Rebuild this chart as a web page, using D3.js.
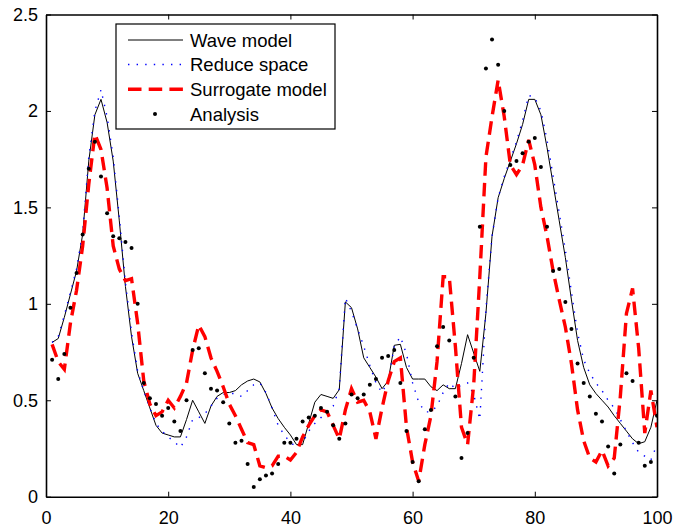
<!DOCTYPE html>
<html>
<head>
<meta charset="utf-8">
<script src="https://cdn.jsdelivr.net/npm/d3@7/dist/d3.min.js"></script>
<style>
  html, body { margin: 0; padding: 0; background: #fff; }
  svg { display: block; }
  text { font-family: "Liberation Sans", Arial, Helvetica, sans-serif; }
</style>
</head>
<body>
<svg id="chart" width="674" height="527"></svg>
<script>
// ---- data ----
const xValues = d3.range(1, 101);

const waveModel = [
  0.80, 0.82, 0.93, 1.05, 1.17, 1.36, 1.74, 1.98, 2.06, 1.94,
  1.74, 1.43, 1.09, 0.83, 0.64, 0.55, 0.46, 0.37, 0.33, 0.32,
  0.31, 0.31, 0.40, 0.50, 0.44, 0.38, 0.47, 0.52, 0.54, 0.54,
  0.55, 0.58, 0.60, 0.61, 0.595, 0.535, 0.46, 0.405, 0.36, 0.32,
  0.27, 0.27, 0.38, 0.49, 0.53, 0.52, 0.51, 0.555, 1.01, 0.98,
  0.87, 0.72, 0.67, 0.62, 0.56, 0.60, 0.785, 0.79, 0.67, 0.61,
  0.61, 0.61, 0.57, 0.55, 0.58, 0.56, 0.56, 0.69, 0.84, 0.745,
  0.65, 0.95, 1.35, 1.55, 1.65, 1.74, 1.83, 1.93, 2.06, 2.06,
  1.98, 1.81, 1.62, 1.43, 1.24, 1.02, 0.81, 0.67, 0.58, 0.535,
  0.50, 0.465, 0.42, 0.38, 0.34, 0.30, 0.275, 0.285, 0.36, 0.50
];

const reduceSpace = [
  0.80, 0.83, 0.94, 1.06, 1.18, 1.37, 1.76, 2.00, 2.11, 1.97,
  1.76, 1.45, 1.11, 0.85, 0.65, 0.55, 0.46, 0.38, 0.34, 0.31,
  0.285, 0.255, 0.31, 0.40, 0.41, 0.43, 0.47, 0.51, 0.53, 0.535,
  0.535, 0.52, 0.55, 0.58, 0.59, 0.54, 0.46, 0.37, 0.32, 0.28,
  0.26, 0.28, 0.34, 0.38, 0.41, 0.44, 0.47, 0.56, 1.03, 0.96,
  0.87, 0.78, 0.68, 0.59, 0.54, 0.60, 0.78, 0.83, 0.74, 0.59,
  0.49, 0.44, 0.44, 0.47, 0.54, 0.59, 0.56, 0.58, 0.59, 0.53,
  0.40, 0.97, 1.35, 1.55, 1.66, 1.75, 1.84, 1.95, 2.08, 2.07,
  2.00, 1.85, 1.66, 1.47, 1.28, 1.06, 0.85, 0.71, 0.64, 0.59,
  0.55, 0.50, 0.46, 0.40, 0.34, 0.28, 0.23, 0.21, 0.19, 0.27
];

const surrogateModel = [
  0.79, 0.70, 0.66, 0.90, 1.07, 1.30, 1.62, 1.88, 1.80, 1.60,
  1.30, 1.18, 1.12, 1.13, 0.90, 0.60, 0.48, 0.42, 0.44, 0.50,
  0.46, 0.52, 0.59, 0.76, 0.89, 0.83, 0.72, 0.65, 0.57, 0.48,
  0.42, 0.35, 0.28, 0.27, 0.16, 0.15, 0.16, 0.21, 0.21, 0.19,
  0.23, 0.31, 0.37, 0.42, 0.45, 0.44, 0.37, 0.30, 0.45, 0.56,
  0.49, 0.50, 0.44, 0.30, 0.46, 0.60, 0.70, 0.72, 0.36, 0.18,
  0.08, 0.27, 0.42, 0.70, 1.14, 1.14, 0.78, 0.36, 0.27, 0.58,
  1.14, 1.76, 1.97, 2.16, 1.97, 1.72, 1.67, 1.72, 1.85, 1.72,
  1.50, 1.35, 1.17, 1.02, 0.88, 0.69, 0.45, 0.29, 0.20, 0.18,
  0.24, 0.16, 0.20, 0.52, 0.95, 1.08, 0.77, 0.33, 0.55, 0.36
];

const analysis = [
  0.71, 0.61, 0.74, 0.98, 1.16, 1.36, 1.70, 1.84, 1.66, 1.47,
  1.35, 1.34, 1.32, 1.29, 1.00, 0.59, 0.51, 0.48, 0.42, 0.46,
  0.39, 0.34, 0.50, 0.76, 0.77, 0.64, 0.56, 0.55, 0.49, 0.38,
  0.28, 0.29, 0.17, 0.05, 0.09, 0.11, 0.12, 0.17, 0.28, 0.28,
  0.30, 0.39, 0.41, 0.42, 0.46, 0.44, 0.37, 0.30, 0.38, 0.53,
  0.51, 0.53, 0.58, 0.61, 0.72, 0.73, 0.76, 0.59, 0.34, 0.18,
  0.08, 0.35, 0.45, 0.78, 0.88, 0.81, 0.52, 0.20, 0.33, 0.72,
  1.40, 2.22, 2.37, 2.24, 2.00, 1.72, 1.74, 1.78, 1.84, 1.86,
  1.71, 1.40, 1.17, 1.18, 1.01, 0.87, 0.69, 0.59, 0.52, 0.43,
  0.39, 0.26, 0.12, 0.27, 0.64, 0.60, 0.28, 0.16, 0.18, 0.42
];

const xTicks = [0, 20, 40, 60, 80, 100];
const yTicks = [0, 0.5, 1, 1.5, 2, 2.5];
const yTickLabels = ["0", "0.5", "1", "1.5", "2", "2.5"];
const legendLabels = ["Wave model", "Reduce space", "Surrogate model", "Analysis"];

// ---- layout ----
const svg = d3.select("#chart");
const L = 46, R = 657, T = 14.5, B = 496.7;
const x = d3.scaleLinear().domain([0, 100]).range([L, R]);
const y = d3.scaleLinear().domain([0, 2.5]).range([B, T]);

const styles = {
  wave: { stroke: "#000", width: 1, dash: null },
  reduce: { stroke: "#0000ff", width: 1.4, dash: "1.4,7.2" },
  surrogate: { stroke: "#ff0000", width: 3.4, dash: "13.5,7.2" }
};

const line = d3.line().x((d, i) => x(xValues[i])).y(d => y(d));

svg.append("clipPath").attr("id", "clip").append("rect")
  .attr("x", L).attr("y", T).attr("width", R - L).attr("height", B - T);
const pg = svg.append("g").attr("clip-path", "url(#clip)");

pg.append("path").datum(waveModel).attr("d", line)
  .attr("fill", "none").attr("stroke", styles.wave.stroke)
  .attr("stroke-width", styles.wave.width);
pg.append("path").datum(reduceSpace).attr("d", line)
  .attr("fill", "none").attr("stroke", styles.reduce.stroke)
  .attr("stroke-width", styles.reduce.width)
  .attr("stroke-dasharray", styles.reduce.dash);
pg.append("path").datum(surrogateModel).attr("d", line)
  .attr("fill", "none").attr("stroke", styles.surrogate.stroke)
  .attr("stroke-width", styles.surrogate.width)
  .attr("stroke-dasharray", styles.surrogate.dash);
pg.selectAll("circle.an").data(analysis).enter().append("circle")
  .attr("class", "an")
  .attr("cx", (d, i) => x(xValues[i])).attr("cy", d => y(d))
  .attr("r", 2).attr("fill", "#000");

// ---- axes ----
const fs = 18;
const gx = svg.append("g").attr("transform", `translate(0,${B})`)
  .call(d3.axisBottom(x).tickValues(xTicks).tickFormat(d3.format("d"))
    .tickSizeInner(-5).tickSizeOuter(0).tickPadding(15));
const gxt = svg.append("g").attr("transform", `translate(0,${T})`)
  .call(d3.axisTop(x).tickValues(xTicks).tickFormat("")
    .tickSizeInner(-5).tickSizeOuter(0));
const gy = svg.append("g").attr("transform", `translate(${L},0)`)
  .call(d3.axisLeft(y).tickValues(yTicks).tickFormat((d, i) => yTickLabels[i])
    .tickSizeInner(-5).tickSizeOuter(0).tickPadding(8));
const gyr = svg.append("g").attr("transform", `translate(${R},0)`)
  .call(d3.axisRight(y).tickValues(yTicks).tickFormat("")
    .tickSizeInner(-5).tickSizeOuter(0));

[gx, gxt, gy, gyr].forEach(g => {
  g.select(".domain").attr("stroke", "#000").attr("stroke-width", 1.6);
  g.selectAll(".tick line").attr("stroke", "#000").attr("stroke-width", 1);
  g.selectAll("text").attr("font-size", fs).attr("fill", "#000")
    .attr("font-family", "Liberation Sans, Arial, sans-serif");
});

// ---- legend ----
const lg = svg.append("g");
const LX0 = 116, LY0 = 24, LW = 219, LH = 105;
lg.append("rect").attr("x", LX0).attr("y", LY0).attr("width", LW).attr("height", LH)
  .attr("fill", "#fff").attr("stroke", "#000").attr("stroke-width", 1.2);
const rowY = [40, 64.5, 89.3, 114];
const sample = [128, 183];
const keys = ["wave", "reduce", "surrogate"];
keys.forEach((k, i) => {
  const s = styles[k];
  lg.append("line").attr("x1", sample[0]).attr("x2", sample[1])
    .attr("y1", rowY[i]).attr("y2", rowY[i])
    .attr("stroke", s.stroke).attr("stroke-width", s.width)
    .attr("stroke-dasharray", s.dash);
});
lg.append("circle").attr("cx", 155).attr("cy", rowY[3]).attr("r", 2).attr("fill", "#000");
legendLabels.forEach((t, i) => {
  lg.append("text").attr("x", 190).attr("y", rowY[i]).attr("dy", "0.36em")
    .attr("font-size", 18.5).attr("fill", "#000").text(t);
});
</script>
</body>
</html>
